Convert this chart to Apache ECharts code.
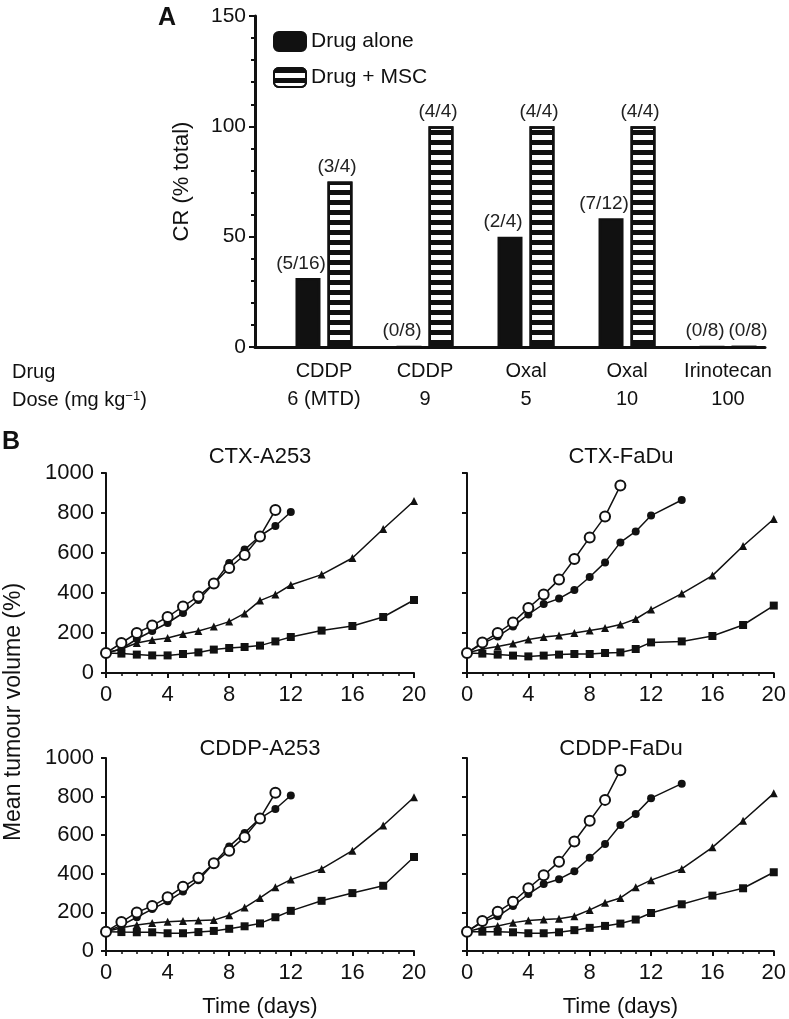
<!DOCTYPE html>
<html><head><meta charset="utf-8">
<script src="https://cdn.jsdelivr.net/npm/echarts@6/dist/echarts.min.js"></script>
<style>html,body{margin:0;padding:0;background:#fff}#c{width:789px;height:1019px}</style>
</head><body><div id="c"></div>
<script>
// ---------- Panel A data ----------
const drugs = ['CDDP', 'CDDP', 'Oxal', 'Oxal', 'Irinotecan'];
const doses = ['6 (MTD)', '9', '5', '10', '100'];
const crAlone = [31.25, 0, 50, 58.3, 0];
const crMSC = [75, 100, 100, 100, 0];
const fracAlone = ['(5/16)', '(0/8)', '(2/4)', '(7/12)', '(0/8)'];
const fracMSC = ['(3/4)', '(4/4)', '(4/4)', '(4/4)', '(0/8)'];
const crTicks = [0, 50, 100, 150];

// ---------- Panel B data ----------
const daysOpenA253 = [0,1,2,3,4,5,6,7,8,9,10,11];
const daysFilledA253 = [0,1,2,3,4,5,6,7,8,9,10,11,12];
const daysOpenFaDu = [0,1,2,3,4,5,6,7,8,9,10];
const daysFilledFaDu = [0,1,2,3,4,5,6,7,8,9,10,11,12,14];
const daysLong = [0,1,2,3,4,5,6,7,8,9,10,11,12,14,16,18,20];
const dayTicks = [0, 4, 8, 12, 16, 20];
const volTicks = [0, 200, 400, 600, 800, 1000];

const ctxA253Open   = [100,150,200,238,280,333,383,447,525,590,683,815];
const ctxA253Filled = [100,120,170,210,250,300,365,447,550,617,685,735,805];
const ctxA253Tri    = [100,120,150,165,175,195,210,232,257,298,362,393,440,492,575,720,860];
const ctxA253Sq     = [100,97,92,88,88,95,103,117,125,130,137,158,180,212,235,280,365];

const ctxFaDuOpen   = [100,153,200,253,325,392,467,570,678,783,937];
const ctxFaDuFilled = [100,147,183,233,293,345,372,415,480,553,653,708,787,865];
const ctxFaDuTri    = [100,120,133,147,167,180,187,200,212,225,242,270,317,397,487,635,770];
const ctxFaDuSq     = [100,97,92,87,83,87,92,95,95,100,103,120,153,158,185,240,337];

const cddpA253Open   = [100,150,200,233,278,333,380,455,520,590,687,820];
const cddpA253Filled = [100,133,175,217,258,308,367,455,542,612,687,736,806];
const cddpA253Tri    = [100,120,135,145,152,155,158,160,185,225,275,330,370,425,520,650,797];
const cddpA253Sq     = [100,98,97,97,92,92,98,104,115,128,143,175,208,260,300,338,487];

const cddpFaDuOpen   = [100,155,203,255,325,392,463,567,675,783,937];
const cddpFaDuFilled = [100,150,180,233,295,347,372,413,483,555,653,710,792,867];
const cddpFaDuTri    = [100,120,130,147,158,163,167,180,213,250,275,330,367,425,537,675,817];
const cddpFaDuSq     = [100,100,100,97,92,92,97,108,120,130,142,163,197,242,287,325,408];

const panelTitles = ['CTX-A253', 'CTX-FaDu', 'CDDP-A253', 'CDDP-FaDu'];

// ---------- build ----------
const FONT = "'Liberation Sans', Arial, sans-serif";
const BLACK = '#111';
const pair = (xs, ys) => ys.map((v, i) => [xs[i], v]);

const panels = [
  {open: pair(daysOpenA253, ctxA253Open), filled: pair(daysFilledA253, ctxA253Filled), tri: pair(daysLong, ctxA253Tri), sq: pair(daysLong, ctxA253Sq)},
  {open: pair(daysOpenFaDu, ctxFaDuOpen), filled: pair(daysFilledFaDu, ctxFaDuFilled), tri: pair(daysLong, ctxFaDuTri), sq: pair(daysLong, ctxFaDuSq)},
  {open: pair(daysOpenA253, cddpA253Open), filled: pair(daysFilledA253, cddpA253Filled), tri: pair(daysLong, cddpA253Tri), sq: pair(daysLong, cddpA253Sq)},
  {open: pair(daysOpenFaDu, cddpFaDuOpen), filled: pair(daysFilledFaDu, cddpFaDuFilled), tri: pair(daysLong, cddpFaDuTri), sq: pair(daysLong, cddpFaDuSq)}
];

const gridsB = [
  {left: 106, top: 473, width: 308, height: 200},
  {left: 467, top: 473, width: 308, height: 200},
  {left: 106, top: 758, width: 308, height: 200},
  {left: 467, top: 758, width: 308, height: 200}
];

const grids = [{left: 255, top: 16, width: 510, height: 331}].concat(gridsB);

const xAxes = [{
  type: 'value', gridIndex: 0, min: -0.683, max: 4.366,
  axisLine: {show: true, onZero: false, lineStyle: {color: BLACK, width: 3}},
  axisTick: {show: false}, splitLine: {show: false},
  axisLabel: {
    customValues: [0, 1, 2, 3, 4],
    formatter: v => drugs[Math.round(v)] + '\n' + doses[Math.round(v)],
    fontSize: 20, lineHeight: 28, margin: 10, color: BLACK, fontFamily: FONT
  }
}];
const yAxes = [{
  type: 'value', gridIndex: 0, min: 0, max: 150, interval: 50,
  axisLine: {show: true, onZero: false, lineStyle: {color: BLACK, width: 3}},
  axisTick: {show: true, length: 6, lineStyle: {width: 2, color: BLACK}},
  minorTick: {show: true, splitNumber: 5, length: 4, lineStyle: {width: 2, color: BLACK}},
  splitLine: {show: false},
  axisLabel: {customValues: crTicks, fontSize: 21, margin: 9, color: BLACK, fontFamily: FONT, formatter: v => String(v)},
  name: 'CR (% total)', nameLocation: 'middle', nameGap: 62, nameRotate: 90,
  nameTextStyle: {fontSize: 22, color: BLACK, fontFamily: FONT}
}];

gridsB.forEach((g, k) => {
  const bottom = k >= 2;
  xAxes.push({
    type: 'value', gridIndex: k + 1, min: 0, max: 20, interval: 4,
    axisLine: {show: true, onZero: false, lineStyle: {color: BLACK, width: 2}},
    axisTick: {show: true, length: 5, lineStyle: {width: 2, color: BLACK}},
    minorTick: {show: true, splitNumber: 4, length: 3, lineStyle: {width: 1.5, color: BLACK}},
    splitLine: {show: false},
    axisLabel: {customValues: dayTicks, fontSize: 22, margin: 11, color: BLACK, fontFamily: FONT, formatter: v => String(v)},
    name: bottom ? 'Time (days)' : '', nameLocation: 'middle', nameGap: 45,
    nameTextStyle: {fontSize: 22, color: BLACK, fontFamily: FONT}
  });
  yAxes.push({
    type: 'value', gridIndex: k + 1, min: 0, max: 1000, interval: 200,
    axisLine: {show: true, onZero: false, lineStyle: {color: BLACK, width: 2}},
    axisTick: {show: true, length: 5, lineStyle: {width: 2, color: BLACK}},
    splitLine: {show: false},
    axisLabel: {show: k % 2 === 0, customValues: volTicks, fontSize: 22, margin: 12, color: BLACK, fontFamily: FONT, formatter: v => String(v)}
  });
});

const barLabel = (texts, dx) => ({
  show: true, position: 'top', distance: 5, offset: [dx, 0],
  formatter: p => texts[p.dataIndex], fontSize: 19, color: '#222', fontFamily: FONT
});

const series = [
  {
    type: 'bar', name: 'Drug alone', xAxisIndex: 0, yAxisIndex: 0, z: 3,
    data: crAlone.map((v, i) => [i, v]), barWidth: 25, barGap: '28%',
    itemStyle: {color: BLACK, borderColor: BLACK, borderWidth: 2.5},
    label: barLabel(fracAlone, -7)
  },
  {
    type: 'bar', name: 'Drug + MSC', xAxisIndex: 0, yAxisIndex: 0, z: 2,
    data: crMSC.map((v, i) => (i === crMSC.length - 1 ? {value: [i, v], label: {offset: [4, 0]}} : [i, v])),
    barWidth: 25, barGap: '28%',
    itemStyle: {
      color: '#fff', borderColor: BLACK, borderWidth: 2.5,
      decal: {symbol: 'rect', symbolSize: 1, dashArrayX: [1, 0], dashArrayY: [4.3, 4.3], rotation: 0, color: BLACK}
    },
    label: barLabel(fracMSC, -3)
  }
];

panels.forEach((p, k) => {
  const base = {type: 'line', xAxisIndex: k + 1, yAxisIndex: k + 1, lineStyle: {color: BLACK, width: 1.5}, animation: false};
  series.push(Object.assign({}, base, {name: 'sq' + k, data: p.sq, symbol: 'rect', symbolSize: 8, itemStyle: {color: BLACK}}));
  series.push(Object.assign({}, base, {name: 'tri' + k, data: p.tri, symbol: 'triangle', symbolSize: 8, itemStyle: {color: BLACK}}));
  series.push(Object.assign({}, base, {name: 'filled' + k, data: p.filled, symbol: 'circle', symbolSize: 8, itemStyle: {color: BLACK}}));
  series.push(Object.assign({}, base, {name: 'open' + k, data: p.open, symbol: 'emptyCircle', symbolSize: 10, itemStyle: {color: BLACK, borderWidth: 2.2}}));
});

const txt = (x, y, text, size, extra) => ({
  type: 'text', x: x, y: y,
  style: Object.assign({text: text, fontSize: size, fontFamily: FONT, fill: BLACK, align: 'left', verticalAlign: 'middle', textAlign: 'left', textVerticalAlign: 'middle'}, extra || {})
});

const graphics = [
  txt(158, 18, 'A', 25, {fontWeight: 'bold'}),
  txt(2, 442, 'B', 25, {fontWeight: 'bold'}),
  txt(12, 372, 'Drug', 20),
  {
    type: 'text', x: 12, y: 400,
    style: {
      text: 'Dose (mg kg{s|−1})', fontSize: 20, fontFamily: FONT, fill: BLACK,
      align: 'left', verticalAlign: 'middle', textAlign: 'left', textVerticalAlign: 'middle',
      rich: {s: {fontSize: 13, fontFamily: FONT, fill: BLACK, verticalAlign: 'top', lineHeight: 20, padding: [0, 0, 8, 0]}}
    }
  },
  {
    type: 'text', x: 14, y: 712, rotation: Math.PI / 2,
    style: {text: 'Mean tumour volume (%)', fontSize: 23, fontFamily: FONT, fill: BLACK, align: 'center', verticalAlign: 'middle', textAlign: 'center', textVerticalAlign: 'middle'}
  }
];
gridsB.forEach((g, k) => {
  graphics.push(txt(g.left + g.width / 2, k < 2 ? 457 : 749, panelTitles[k], 22, {align: 'center', textAlign: 'center'}));
});

const chart = echarts.init(document.getElementById('c'), null, {renderer: 'canvas'});
chart.setOption({
  animation: false,
  backgroundColor: '#fff',
  textStyle: {fontFamily: FONT},
  grid: grids,
  xAxis: xAxes,
  yAxis: yAxes,
  legend: {
    data: ['Drug alone', 'Drug + MSC'], orient: 'vertical', left: 268, top: 26,
    itemWidth: 32, itemHeight: 19, itemGap: 15, icon: 'roundRect',
    textStyle: {fontSize: 21, color: BLACK, fontFamily: FONT}
  },
  graphic: graphics,
  series: series
});
</script></body></html>
